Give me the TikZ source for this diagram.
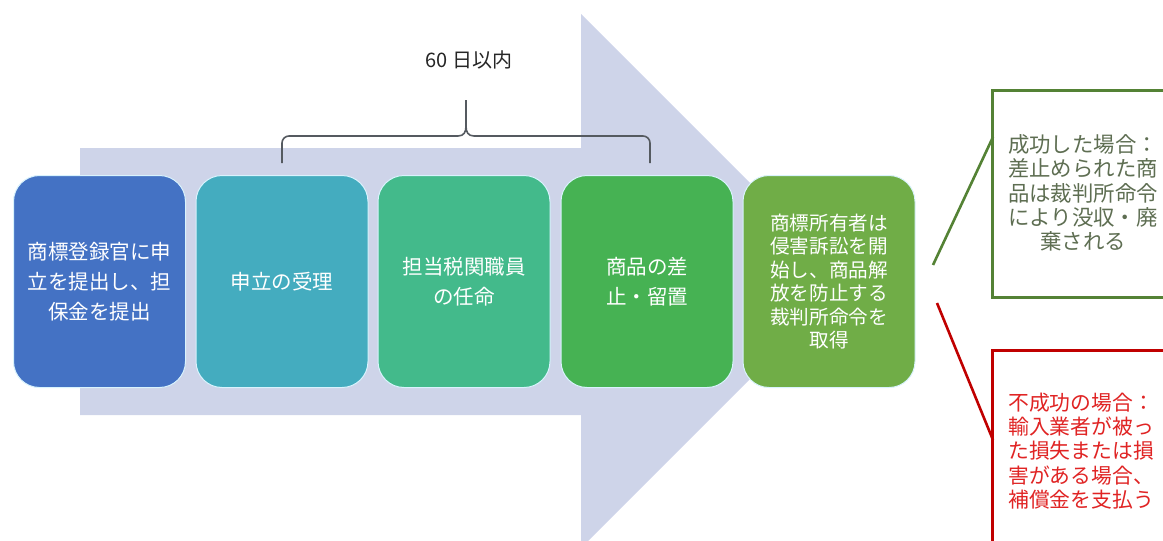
\documentclass[tikz,border=0pt]{standalone}
\usepackage{fontspec}
\newfontfamily\jp{Noto Sans CJK JP}
\definecolor{arrowbg}{HTML}{CED4E9}
\definecolor{cA}{HTML}{4472C4}
\definecolor{cB}{HTML}{44ACBF}
\definecolor{cC}{HTML}{43BA8B}
\definecolor{cD}{HTML}{46B253}
\definecolor{cE}{HTML}{70AD47}
\definecolor{okline}{HTML}{548235}
\definecolor{oktext}{HTML}{5E6E52}
\definecolor{ngline}{HTML}{C00000}
\definecolor{ngtext}{HTML}{E02424}
\definecolor{brace}{HTML}{555A60}
\tikzset{
  stepbox/.style={draw=white!85!cyan, line width=1pt, rounded corners=26pt,
    minimum width=172pt, minimum height=212pt, inner sep=0pt,
    text=white, align=center, font=\jp\fontsize{20.5}{30}\selectfont},
  callout/.style={line width=3pt, fill=white},
  leader/.style={line width=2.6pt}
}
\begin{document}
\begin{tikzpicture}[x=1pt,y=-1pt]
\useasboundingbox (0,0) rectangle (1163,541);
\begin{scope}
\clip (0,0) rectangle (1163,541);
% big arrow background
\fill[arrowbg] (80,148) -- (581,148) -- (581,14) -- (848,281) -- (581,548)
  -- (581,415) -- (80,415) -- cycle;
% boxes
\node[stepbox, fill=cA] (s1) at (99.5,281.5) {\raisebox{-6pt}{\parbox{168pt}{\centering 商標登録官に申\\立を提出し、担\\保金を提出}}};
\node[stepbox, fill=cB] (s2) at (282,281.5) {申立の受理};
\node[stepbox, fill=cC] (s3) at (464,281.5) {担当税関職員\\の任命};
\node[stepbox, fill=cD] (s4) at (647,281.5) {商品の差\\止・留置};
\node[stepbox, fill=cE, font=\jp\fontsize{19.6}{23.5}\selectfont] (s5) at (829,281.5)
  {商標所有者は\\侵害訴訟を開\\始し、商品解\\放を防止する\\裁判所命令を\\取得};
% brace
\coordinate (bl) at (282,163);
\coordinate (br) at (650,163);
\coordinate (bt) at (466,100);
\draw[brace, line width=1.6pt, line join=round]
  (bl) -- (282,143) arc[start angle=180, end angle=90, radius=7pt]
  -- (458,136) .. controls (464,136) and (466,132) .. (466,126) -- (bt);
\draw[brace, line width=1.6pt, line join=round]
  (br) -- (650,143) arc[start angle=0, end angle=90, radius=7pt]
  -- (474,136) .. controls (468,136) and (466,132) .. (466,126);
\node[font=\jp\fontsize{20}{22}\selectfont, text=black!85] (days) at (469,60) {60 日以内};
% callouts
\draw[callout, draw=okline] (992,90) rectangle (1175,297);
\node[text=oktext, align=center, font=\jp\fontsize{21.4}{24.2}\selectfont] (ok) at (1083,193)
  {成功した場合：\\差止められた商\\品は裁判所命令\\により没収・廃\\棄される};
\draw[callout, draw=ngline] (992,350) rectangle (1175,560);
\node[text=ngtext, align=left, font=\jp\fontsize{20.8}{24.2}\selectfont] (ng) at (1081,451)
  {不成功の場合：\\輸入業者が被っ\\た損失または損\\害がある場合、\\補償金を支払う};
% leader lines
\coordinate (okA) at (933,265);
\coordinate (okB) at (993,137);
\coordinate (ngA) at (937,303);
\coordinate (ngB) at (993,440);
\draw[leader, draw=okline] (okA) -- (okB);
\draw[leader, draw=ngline] (ngA) -- (ngB);
\end{scope}
\end{tikzpicture}
\end{document}
